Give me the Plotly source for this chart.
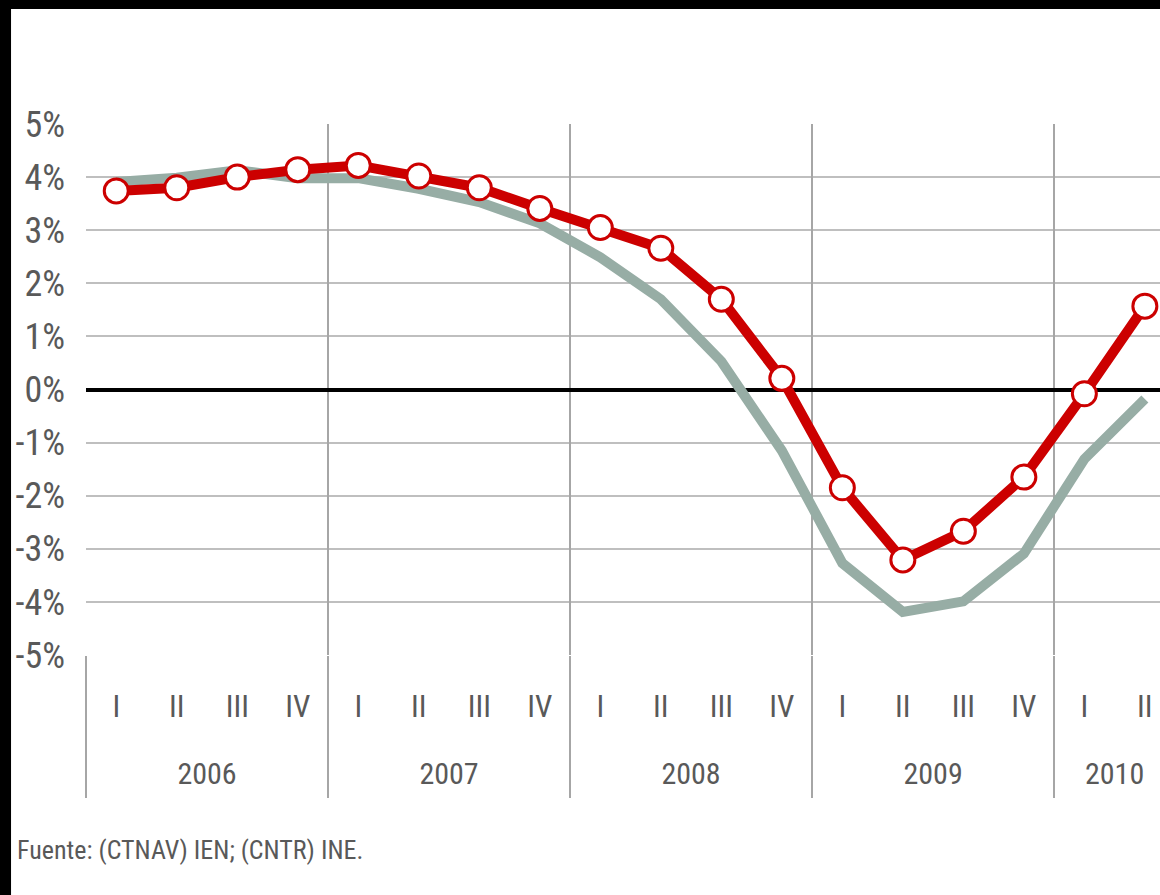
import plotly.graph_objects as go

# quarters 2006-I .. 2010-II
quarters = ["I", "II", "III", "IV"] * 4 + ["I", "II"]
years = ["2006"] * 4 + ["2007"] * 4 + ["2008"] * 4 + ["2009"] * 4 + ["2010"] * 2

ien_ctnav = [3.74, 3.80, 4.00, 4.14, 4.22, 4.02, 3.80, 3.41, 3.05, 2.66,
             1.70, 0.21, -1.85, -3.21, -2.67, -1.65, -0.08, 1.57]
ine_cntr = [3.91, 3.99, 4.13, 3.98, 3.98, 3.78, 3.53, 3.13, 2.49, 1.70,
            0.53, -1.15, -3.27, -4.19, -3.99, -3.09, -1.31, -0.18]

y_ticks = [5, 4, 3, 2, 1, 0, -1, -2, -3, -4, -5]
y_labels = ["5%", "4%", "3%", "2%", "1%", "0%", "-1%", "-2%", "-3%", "-4%", "-5%"]

FONT = "Liberation Sans Narrow, Arial Narrow, Roboto Condensed, Liberation Sans, sans-serif"
TXT = "#595959"
RED = "#CC0000"
GREY = "#97ADA5"

idx = list(range(len(quarters)))

# year boundaries and year centres, derived from the category list
bounds = [-0.5]
centres = []
labels = []
start = 0
for i in range(1, len(years) + 1):
    if i == len(years) or years[i] != years[start]:
        bounds.append(i - 0.5)
        centres.append((start + i - 1) / 2)
        labels.append(years[start])
        start = i
bounds = bounds[:-1]

x_range = [-0.5, 17.25]

fig = go.Figure()
fig.add_trace(go.Scatter(
    x=idx, y=ine_cntr, mode="lines", name="(CNTR) INE",
    line=dict(color=GREY, width=10), showlegend=False, hoverinfo="skip"))
fig.add_trace(go.Scatter(
    x=idx, y=ien_ctnav, mode="lines+markers", name="(CTNAV) IEN",
    line=dict(color=RED, width=10),
    marker=dict(symbol="circle", size=24, color="white", line=dict(color=RED, width=3)),
    showlegend=False))

# invisible carriers for the year-divider and year-label axes
fig.add_trace(go.Scatter(x=[None], y=[None], xaxis="x2", showlegend=False))
fig.add_trace(go.Scatter(x=[None], y=[None], xaxis="x3", showlegend=False))

fig.update_layout(
    width=1160, height=895,
    margin=dict(l=86, r=0, t=124, b=240),
    paper_bgcolor="white", plot_bgcolor="white",
    font=dict(family=FONT, color=TXT),
    xaxis=dict(
        range=x_range, tickmode="array", tickvals=idx, ticktext=quarters,
        showgrid=False, zeroline=False, showline=False, ticks="",
        tickfont=dict(size=31, color=TXT), ticklabelstandoff=30,
        automargin=False,
    ),
    xaxis2=dict(
        overlaying="x", side="bottom", range=x_range, tickmode="array",
        tickvals=bounds, ticktext=[""] * len(bounds),
        showgrid=True, gridcolor="#A6A6A6", gridwidth=1.5,
        ticks="outside", ticklen=142, tickcolor="#A6A6A6", tickwidth=1.5,
        zeroline=False, showline=False, automargin=False,
    ),
    xaxis3=dict(
        overlaying="x", side="bottom", range=x_range, tickmode="array",
        tickvals=centres, ticktext=labels,
        showgrid=False, zeroline=False, showline=False, ticks="",
        tickfont=dict(size=30, color=TXT), ticklabelstandoff=98,
        automargin=False,
    ),
    yaxis=dict(
        range=[-5, 5], tickmode="array", tickvals=y_ticks, ticktext=y_labels,
        showgrid=True, gridcolor="#BFBFBF", gridwidth=1.5,
        zeroline=True, zerolinecolor="black", zerolinewidth=4,
        showline=False, ticks="", tickfont=dict(size=36, color=TXT),
        ticklabelstandoff=20, automargin=False,
    ),
    annotations=[dict(
        text="Fuente: (CTNAV) IEN; (CNTR) INE.", xref="paper", yref="paper",
        x=-0.066, y=-0.367, xanchor="left", yanchor="middle", showarrow=False,
        font=dict(size=26, color=TXT, family=FONT),
    )],
    shapes=[
        # black frame at top and left of the slide
        dict(type="rect", xref="paper", yref="paper", x0=-0.081, x1=1.0,
             y0=1.2166, y1=1.24, fillcolor="black", line=dict(width=0), layer="above"),
        dict(type="rect", xref="paper", yref="paper", x0=-0.081, x1=-0.0698,
             y0=-0.46, y1=1.24, fillcolor="black", line=dict(width=0), layer="above"),
    ],
)

# the page's default body margin would shift and crop the figure
fig.write_html("out.html", config={"displayModeBar": False},
               post_script="document.body.style.margin='0';")
